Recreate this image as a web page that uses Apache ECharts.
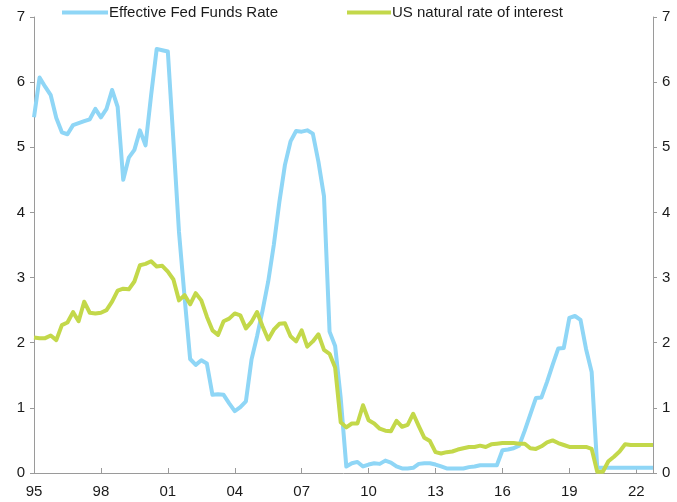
<!DOCTYPE html>
<html>
<head>
<meta charset="utf-8">
<script src="https://cdn.jsdelivr.net/npm/echarts@6/dist/echarts.min.js"></script>
<style>
  html, body { margin: 0; padding: 0; background: #fff; }
  #chart { width: 677px; height: 502px; }
</style>
</head>
<body>
<div id="chart"></div>
<script>
// Quarterly data, 1995 Q1 .. 2022 Q4
var startYear = 1995;
var quarterCount = 112;

var fedFunds = [
  5.46, 6.07, 5.93, 5.80, 5.45, 5.23, 5.20, 5.34, 5.37, 5.40, 5.43, 5.59,
  5.46, 5.59, 5.88, 5.62, 4.50, 4.84, 4.96, 5.26, 5.03, 5.80, 6.51, 6.49,
  6.47, 5.10, 3.70, 2.70, 1.75, 1.66, 1.73, 1.68, 1.20, 1.21, 1.20, 1.07,
  0.95, 1.01, 1.10, 1.74, 2.10, 2.50, 2.94, 3.50, 4.16, 4.73, 5.09, 5.25,
  5.24, 5.26, 5.21, 4.78, 4.25, 2.17, 1.95, 1.15, 0.10, 0.15, 0.17, 0.10,
  0.13, 0.15, 0.14, 0.19, 0.16, 0.10, 0.07, 0.07, 0.08, 0.14, 0.15, 0.15,
  0.13, 0.10, 0.07, 0.07, 0.07, 0.07, 0.09, 0.10, 0.12, 0.12, 0.12, 0.12,
  0.35, 0.36, 0.38, 0.42, 0.65, 0.90, 1.15, 1.16, 1.40, 1.66, 1.91, 1.92,
  2.38, 2.41, 2.35, 1.90, 1.55, 0.08, 0.08, 0.08, 0.08, 0.08, 0.08, 0.08,
  0.08, 0.08, 0.08, 0.08
];

var naturalRate = [
  2.08, 2.07, 2.07, 2.11, 2.04, 2.27, 2.31, 2.47, 2.33, 2.63, 2.46, 2.45,
  2.46, 2.50, 2.63, 2.80, 2.83, 2.82, 2.94, 3.19, 3.21, 3.25, 3.17, 3.18,
  3.09, 2.97, 2.65, 2.73, 2.59, 2.76, 2.65, 2.40, 2.19, 2.12, 2.33, 2.37,
  2.45, 2.42, 2.22, 2.32, 2.47, 2.25, 2.05, 2.20, 2.29, 2.30, 2.10, 2.02,
  2.19, 1.94, 2.02, 2.13, 1.89, 1.83, 1.62, 0.78, 0.70, 0.76, 0.76, 1.04,
  0.81, 0.76, 0.68, 0.65, 0.64, 0.80, 0.71, 0.74, 0.91, 0.72, 0.54, 0.49,
  0.32, 0.30, 0.32, 0.33, 0.36, 0.38, 0.40, 0.40, 0.42, 0.40, 0.44, 0.45,
  0.46, 0.46, 0.46, 0.45, 0.45, 0.38, 0.37, 0.41, 0.47, 0.50, 0.46, 0.43,
  0.40, 0.40, 0.40, 0.40, 0.37, 0.02, 0.02, 0.18, 0.25, 0.33, 0.44, 0.43,
  0.43, 0.43, 0.43, 0.43
];

var seriesNames = ['Effective Fed Funds Rate', 'US natural rate of interest'];

var quarters = [];
for (var i = 0; i < quarterCount; i++) {
  quarters.push((startYear + Math.floor(i / 4)) + ' Q' + (i % 4 + 1));
}

var textColor = '#1a1a1a';
var axisColor = '#9a9a9a';
var fontFamily = '"Liberation Sans", Arial, sans-serif';

function everyThreeYears(index) {
  return index % 12 === 0;
}

function yAxisOpts(pos) {
  return {
    type: 'value',
    position: pos,
    min: 0,
    max: 7,
    interval: 1,
    splitLine: { show: false },
    axisLine: { show: true, lineStyle: { color: axisColor, width: 1 } },
    axisTick: { show: true, inside: false, length: 4, lineStyle: { color: axisColor } },
    axisLabel: { color: textColor, fontSize: 15, fontFamily: fontFamily, margin: 9 }
  };
}

function legendOpts(name, left, iconWidth) {
  return {
    data: [name],
    left: left, top: 5,
    padding: 0,
    icon: 'rect', itemWidth: iconWidth, itemHeight: 4, itemGap: 0,
    textStyle: { color: textColor, fontSize: 15, fontFamily: fontFamily, padding: [0, 0, 0, -4] }
  };
}

var chart = echarts.init(document.getElementById('chart'));

chart.setOption({
  animation: false,
  backgroundColor: '#ffffff',
  grid: { left: 34, right: 24, top: 17, bottom: 29 },
  legend: [
    legendOpts(seriesNames[0], 62, 46),
    legendOpts(seriesNames[1], 347, 44)
  ],
  xAxis: {
    type: 'category',
    data: quarters,
    boundaryGap: false,
    axisLine: { show: true, lineStyle: { color: axisColor, width: 1 } },
    axisTick: { show: true, inside: true, length: 5, interval: everyThreeYears, lineStyle: { color: axisColor } },
    axisLabel: {
      interval: everyThreeYears,
      color: textColor,
      fontSize: 15,
      fontFamily: fontFamily,
      margin: 11,
      formatter: function (v) { return v.slice(2, 4); }
    },
    splitLine: { show: false }
  },
  yAxis: [yAxisOpts('left'), yAxisOpts('right')],
  series: [
    {
      name: seriesNames[0],
      type: 'line',
      data: fedFunds,
      showSymbol: false,
      color: '#8fd6f6',
      lineStyle: { width: 4, color: '#8fd6f6', join: 'round' },
      z: 2
    },
    {
      name: seriesNames[1],
      type: 'line',
      data: naturalRate,
      showSymbol: false,
      color: '#c3d84a',
      lineStyle: { width: 4, color: '#c3d84a', join: 'round' },
      z: 3
    }
  ]
});
</script>
</body>
</html>
